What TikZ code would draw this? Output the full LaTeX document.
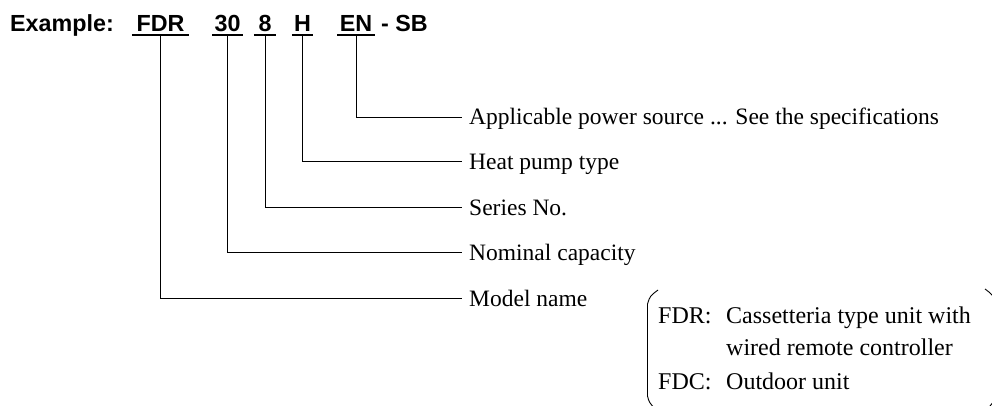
\documentclass[tikz,border=0pt]{standalone}
\usepackage{fontspec}
\setmainfont{Liberation Serif}
\newfontfamily\headfont{Liberation Sans}
\begin{document}
\begin{tikzpicture}[x=1pt,y=-1pt,
  part/.style={font=\headfont\bfseries\fontsize{23.3}{26}\selectfont, inner sep=0pt, text depth=2.6pt, anchor=base},
  lab/.style={font=\fontsize{23.5}{26}\selectfont, inner ysep=0pt, inner xsep=7pt, text height=16pt, text depth=0pt, anchor=west},
  boxt/.style={font=\fontsize{24}{26}\selectfont, inner sep=0pt, anchor=base west},
  ul/.style={line width=2.2pt},
  conn/.style={line width=0.9pt},
  brk/.style={line width=0.9pt}]
\useasboundingbox (0,0) rectangle (992,406);
\clip (0,0) rectangle (992,406);
% title
\node[font=\headfont\bfseries\fontsize{23.3}{26}\selectfont, inner sep=0pt, anchor=base west] (ex) at (10,32) {Example:};
\node[part, minimum width=57pt] (fdr) at (160.5,32) {FDR};
\node[part, minimum width=30pt] (n30) at (227.5,32) {30};
\node[part, minimum width=22pt] (n8) at (265,32) {8};
\node[part, minimum width=21pt] (h) at (302.5,32) {H};
\node[part, minimum width=37pt] (en) at (356,32) {EN};
\node[font=\headfont\bfseries\fontsize{23.3}{26}\selectfont, inner sep=0pt, anchor=base west] (sb) at (381,32) {- SB};
\foreach \n in {fdr,n30,n8,h,en}{\draw[ul] (\n.south west) -- (\n.south east);}
% labels
\node[lab] (lpow) at (462,117) {Applicable power source ... See the specifications};
\node[lab] (lheat) at (462,161) {Heat pump type};
\node[lab] (lser) at (462,207) {Series No.};
\node[lab] (lnom) at (462,252) {Nominal capacity};
\node[lab] (lmod) at (462,298) {Model name};
% connectors
\draw[conn] (en.south) |- (lpow.west);
\draw[conn] (h.south) |- (lheat.west);
\draw[conn] (n8.south) |- (lser.west);
\draw[conn] (n30.south) |- (lnom.west);
\draw[conn] (fdr.south) |- (lmod.west);
% bracketed note
\draw[brk] (658,290) .. controls (650,296) .. (647.5,304) -- (647.5,396) .. controls (649,402) .. (655,409);
\draw[brk] (985,289) .. controls (993,295) .. (995,304) -- (995,396) .. controls (993,403) .. (987,409);
\node[boxt] (fdrk) at (658,323) {FDR:};
\node[boxt] (fdrd) at (726,323) {Cassetteria type unit with};
\node[boxt] (wired) at (726,355) {wired remote controller};
\node[boxt] (fdck) at (658,389) {FDC:};
\node[boxt] (fdcd) at (726,389) {Outdoor unit};
\end{tikzpicture}
\end{document}
